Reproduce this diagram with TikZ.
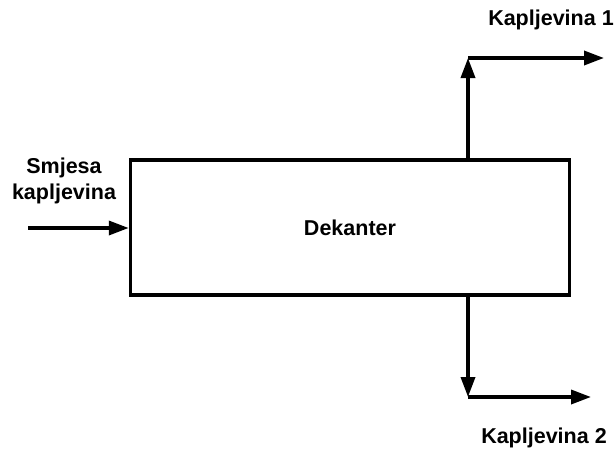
\documentclass[tikz,border=0pt]{standalone}
\usepackage{fontspec}
\setmainfont{Liberation Sans}
\usetikzlibrary{arrows.meta,positioning}
\begin{document}
\begin{tikzpicture}[x=1pt,y=-1pt,
  lbl/.style={font=\fontsize{21.5}{26}\selectfont\bfseries,align=center,inner sep=0pt},
  tank/.style={draw,line width=3.5pt,minimum width=439pt,minimum height=135pt,inner sep=0pt,
    font=\fontsize{21.5}{26}\selectfont\bfseries},
  flow/.style={line width=3.5pt,-{Triangle[length=20pt,width=14pt]}}]
  \useasboundingbox (0,0) rectangle (615,452);
  % decanter
  \node[tank] (dek) at (350,227.5) {Dekanter};
  % feed
  \coordinate (feed) at (28,228);
  \draw[flow] (feed) -- (dek.west |- feed);
  \node[lbl] (feed-lbl) at (64,181) {Smjesa\\kapljevina};
  % outlets
  \coordinate (top) at (468,58);
  \coordinate (out-1) at (604,58);
  \draw[flow] (dek.north -| top) -- (top);
  \draw[flow] (top) -- (out-1);
  \node[lbl] (out-1-lbl) at (551,20) {Kapljevina 1};
  \coordinate (bot) at (468,397);
  \coordinate (out-2) at (591,397);
  \draw[flow] (dek.south -| bot) -- (bot);
  \draw[flow] (bot) -- (out-2);
  \node[lbl] (out-2-lbl) at (544,438) {Kapljevina 2};
\end{tikzpicture}
\end{document}
